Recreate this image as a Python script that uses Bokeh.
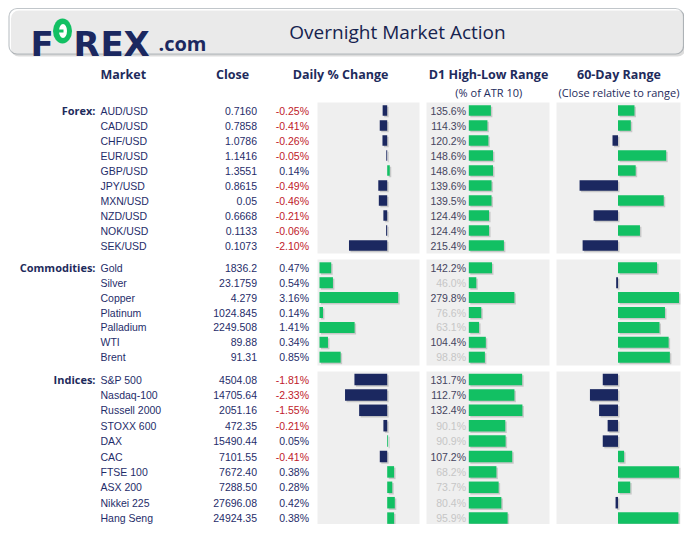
from bokeh.plotting import figure
from bokeh.models import Range1d, ColumnDataSource, BoxAnnotation
from bokeh.embed import file_html
from bokeh.resources import INLINE
from bokeh.core.properties import value

# ---------------- data ----------------
fx_market = ["AUD/USD", "CAD/USD", "CHF/USD", "EUR/USD", "GBP/USD",
             "JPY/USD", "MXN/USD", "NZD/USD", "NOK/USD", "SEK/USD"]
fx_close = ["0.7160", "0.7858", "1.0786", "1.1416", "1.3551",
            "0.8615", "0.05", "0.6668", "0.1133", "0.1073"]
fx_change = [-0.25, -0.41, -0.26, -0.05, 0.14, -0.49, -0.46, -0.21, -0.06, -2.10]
fx_d1 = [135.6, 114.3, 120.2, 148.6, 148.6, 139.6, 139.5, 124.4, 124.4, 215.4]
fx_r60 = [27, 21, -9, 79, 29, -63, 75, -40, 36, -58]

cm_market = ["Gold", "Silver", "Copper", "Platinum", "Palladium", "WTI", "Brent"]
cm_close = ["1836.2", "23.1759", "4.279", "1024.845", "2249.508", "89.88", "91.31"]
cm_change = [0.47, 0.54, 3.16, 0.14, 1.41, 0.34, 0.85]
cm_d1 = [142.2, 46.0, 279.8, 76.6, 63.1, 104.4, 98.8]
cm_r60 = [64, -3, 100, 77, 68, 83, 85]

ix_market = ["S&P 500", "Nasdaq-100", "Russell 2000", "STOXX 600", "DAX",
             "CAC", "FTSE 100", "ASX 200", "Nikkei 225", "Hang Seng"]
ix_close = ["4504.08", "14705.64", "2051.16", "472.35", "15490.44",
            "7101.55", "7672.40", "7288.50", "27696.08", "24924.35"]
ix_change = [-1.81, -2.33, -1.55, -0.21, 0.05, -0.41, 0.38, 0.28, 0.42, 0.38]
ix_d1 = [131.7, 112.7, 132.4, 90.1, 90.9, 107.2, 68.2, 73.7, 80.4, 95.9]
ix_r60 = [-25, -46, -31, -17, -25, 10, 100, 20, -4, 99]

headers = ["Market", "Close", "Daily % Change", "D1 High-Low Range", "60-Day Range"]
subheaders = ["(% of ATR 10)", "(Close relative to range)"]
title = "Overnight Market Action"

# ---------------- style ----------------
NAVY = "#1b2860"
GREEN = "#12c063"
TXT = "#1f2d6a"
RED = "#c0202a"
PANEL = "#efefef"
BODY_FONT = value("Liberation Sans")
HEAD_FONT = value("Open Sans")
LOGO_FONT = value("DejaVu Sans")

X0, X1 = 0, 684
p = figure(width=684, height=524, x_range=Range1d(X0, X1), y_range=Range1d(524, 0),
           output_backend="svg", toolbar_location=None, min_border=0,
           x_axis_location=None, y_axis_location=None,
           background_fill_color="white", border_fill_color="white",
           outline_line_color=None)
p.grid.visible = False


def px_range(zero, scale):
    return Range1d(start=(X0 - zero) / scale, end=(X1 - zero) / scale)


# ---------------- header box ----------------
p.add_layout(BoxAnnotation(left=10.5, right=685, top=10, bottom=56, border_radius=8,
                           fill_color="#9a9a9a", fill_alpha=0.35, line_color=None,
                           level="underlay"))
p.add_layout(BoxAnnotation(left=8.5, right=683, top=8, bottom=53.5, border_radius=8,
                           fill_color="white", line_color="#33414f", line_width=1.2,
                           level="underlay"))

# logo
logo_letters = ["F", "R", "E", "X"]
logo_x = [30, 73, 100, 123]
p.text(x=logo_x, y=[43] * 4, text=logo_letters, text_font=LOGO_FONT, text_font_style="bold",
       text_font_size=value("34px"), text_color=NAVY, text_baseline="alphabetic")
p.ellipse(x=[62], y=[30.5], width=19, height=25, fill_color=GREEN, line_color=None)
p.ellipse(x=[62.5], y=[30.5], width=8, height=14, fill_color="white", line_color=None)
p.quad(left=[56.5], right=[63], top=[29], bottom=[32], fill_color=GREEN, line_color=None)
p.text(x=[158], y=[43], text=[".com"], text_font=value("Open Sans"), text_font_style="bold",
       text_font_size=value("20px"), text_color=NAVY, text_baseline="alphabetic")

p.text(x=[397], y=[31], text=[title], text_font=HEAD_FONT, text_font_size=value("19px"),
       text_color="#16234f", text_align="center", text_baseline="middle")

# column headers
hx = [100, 232, 340, 488, 618.5]
ha = ["left", "center", "center", "center", "center"]
for xx, t, a in zip(hx, headers, ha):
    p.text(x=[xx], y=[74], text=[t], text_font=HEAD_FONT, text_font_style="bold",
           text_font_size=value("12.5px"), text_color="#1e2b5c", text_align=a,
           text_baseline="middle")
for xx, t in zip([488.3, 618.5], subheaders):
    p.text(x=[xx], y=[91.5], text=[t], text_font=HEAD_FONT, text_font_size=value("11px"),
           text_color="#1e2b5c", text_align="center", text_baseline="middle")

# ---------------- groups ----------------
groups = [
    dict(label="Forex:", market=fx_market, close=fx_close, change=fx_change, d1=fx_d1, r60=fx_r60,
         y0=110, step=15, top=102, bottom=253, bh=10.5,
         chg_zero=386.7, chg_scale=18.2, d1_scale=0.163),
    dict(label="Commodities:", market=cm_market, close=cm_close, change=cm_change, d1=cm_d1, r60=cm_r60,
         y0=267.3, step=14.9, top=259, bottom=365, bh=11,
         chg_zero=319, chg_scale=24.9, d1_scale=0.163),
    dict(label="Indices:", market=ix_market, close=ix_close, change=ix_change, d1=ix_d1, r60=ix_r60,
         y0=379, step=15.4, top=371, bottom=524, bh=11.5,
         chg_zero=386.7, chg_scale=18.1, d1_scale=0.405),
]

D1_ZERO = 468.3
R60_ZERO = 617.5
R60_SCALE = 0.61
SH = 1.5  # shadow offset in px

extra = {"r60": px_range(R60_ZERO, R60_SCALE)}
for gi, g in enumerate(groups):
    extra[f"chg{gi}"] = px_range(g["chg_zero"], g["chg_scale"])
    extra[f"d1{gi}"] = px_range(D1_ZERO, g["d1_scale"])
p.extra_x_ranges = extra

for gi, g in enumerate(groups):
    n = len(g["market"])
    ys = [g["y0"] + i * g["step"] for i in range(n)]
    # panels
    p.quad(left=[317, 426, 556], right=[419, 549, 680], top=[g["top"]] * 3,
           bottom=[g["bottom"]] * 3, fill_color=PANEL, line_color=None)

    chg = g["change"]
    d1 = g["d1"]
    r60 = g["r60"]
    src = ColumnDataSource(dict(
        y=ys, ys=[v + SH for v in ys],
        market=g["market"], close=g["close"],
        chg=chg, chg_txt=[f"{v:.2f}%" for v in chg],
        chg_tcol=[RED if v < 0 else TXT for v in chg],
        chg_col=[GREEN if v >= 0 else NAVY for v in chg],
        chg_s0=[SH / g["chg_scale"]] * n, chg_s1=[v + SH / g["chg_scale"] for v in chg],
        d1=d1, d1_txt=[f"{v:.1f}%" for v in d1],
        d1_tcol=["#45455e" if v >= 100 else "#c6c6c6" for v in d1],
        d1_s0=[SH / g["d1_scale"]] * n, d1_s1=[v + SH / g["d1_scale"] for v in d1],
        zero=[0] * n,
        r60=r60, r60_col=[GREEN if v >= 0 else NAVY for v in r60],
        r60_s0=[SH / R60_SCALE] * n, r60_s1=[v + SH / R60_SCALE for v in r60],
    ))
    bh = g["bh"]
    # shadows
    p.hbar(y="ys", left="chg_s0", right="chg_s1", height=bh, source=src,
           x_range_name=f"chg{gi}", fill_color="#000000", fill_alpha=0.16, line_color=None)
    p.hbar(y="ys", left="d1_s0", right="d1_s1", height=bh, source=src,
           x_range_name=f"d1{gi}", fill_color="#000000", fill_alpha=0.16, line_color=None)
    p.hbar(y="ys", left="r60_s0", right="r60_s1", height=bh, source=src,
           x_range_name="r60", fill_color="#000000", fill_alpha=0.16, line_color=None)
    # bars
    p.hbar(y="y", left="zero", right="chg", height=bh, source=src, x_range_name=f"chg{gi}",
           fill_color="chg_col", line_color=None)
    p.hbar(y="y", left="zero", right="d1", height=bh, source=src, x_range_name=f"d1{gi}",
           fill_color=GREEN, line_color=None)
    p.hbar(y="y", left="zero", right="r60", height=bh, source=src, x_range_name="r60",
           fill_color="r60_col", line_color=None)

    # texts
    p.text(x=[95], y=[ys[0]], text=[g["label"]], text_font=HEAD_FONT, text_font_style="bold",
           text_font_size=value("11px"), text_color="#1e2b5c", text_align="right",
           text_baseline="middle")
    common = dict(source=src, text_font=BODY_FONT, text_font_size=value("10.5px"),
                  text_baseline="middle")
    p.text(x=100, y="y", text="market", text_color=TXT, text_align="left", **common)
    p.text(x=256.5, y="y", text="close", text_color=TXT, text_align="right", **common)
    p.text(x=308.5, y="y", text="chg_txt", text_color="chg_tcol", text_align="right", **common)
    p.text(x=465.5, y="y", text="d1_txt", text_color="d1_tcol", text_align="right", **common)

open("out.html", "w").write(file_html(p, INLINE))
